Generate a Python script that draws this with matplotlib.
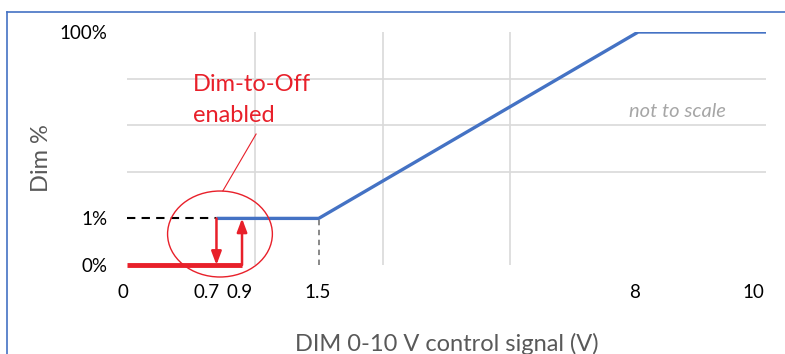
import numpy as np
import matplotlib
matplotlib.use("Agg")
import matplotlib.pyplot as plt
from matplotlib.patches import Ellipse
from matplotlib.lines import Line2D
from matplotlib.transforms import ScaledTranslation

plt.rcParams['font.family'] = ['Lato', 'DejaVu Sans']

# data (volts, dim %)
curve_v = [0.7, 1.5, 8, 10]
curve_dim = [1, 1, 100, 100]
off_v = [0, 0.9]
off_dim = [0, 0]
dash_v = [0, 0.7]
dash_dim = [1, 1]
min_v = [1.5, 1.5]
min_dim = [0, 1]
arrow_down = (0.7, 1, 0)
arrow_up = (0.9, 0, 1)
xticks = [0, 0.7, 0.9, 1.5, 8, 10]
xticklabels = ['0', '0.7', '0.9', '1.5', '8', '10']
yticks = [0, 1, 100]
yticklabels = ['0%', '1%', '100%']

# "not to scale" axes: piecewise linear
xk = np.array([0, 1.5, 8, 10]); xu = np.array([0, 1.5, 4, 5])
yk = np.array([0, 1, 100]); yu = np.array([0, 1, 5])


def pw(a, k, u):
    a = np.asarray(a, dtype=float)
    lo = u[0] + (a - k[0]) * (u[1] - u[0]) / (k[1] - k[0])
    hi = u[-1] + (a - k[-1]) * (u[-1] - u[-2]) / (k[-1] - k[-2])
    return np.where(a < k[0], lo, np.where(a > k[-1], hi, np.interp(a, k, u)))


fig = plt.figure(figsize=(7.85, 3.54), dpi=100)
ax = fig.add_axes([127 / 785, 89 / 354, 639 / 785, 233 / 354])
ax.set_xscale('function', functions=(lambda a: pw(a, xk, xu), lambda a: pw(a, xu, xk)))
ax.set_yscale('function', functions=(lambda a: pw(a, yk, yu), lambda a: pw(a, yu, yk)))
ax.set_xlim(0, 10)
ax.set_ylim(0, 100)

ax.set_xticks(xticks)
ax.set_xticklabels(xticklabels, fontsize=13.5)
ax.set_yticks(yticks)
ax.set_yticklabels(yticklabels, fontsize=13.5)
ax.set_xticks(pw(np.arange(6), xu, xk), minor=True)
ax.set_yticks(pw(np.arange(6), yu, yk), minor=True)
ax.tick_params(which='both', length=0)
ax.tick_params(axis='x', pad=14)
ax.tick_params(axis='y', pad=14)
ax.grid(which='minor', color='#d9d9d9', lw=1.2)
ax.grid(which='major', visible=False)
for s in ax.spines.values():
    s.set_visible(False)

offs = [-4, -10, -2, -1, -4, -13]
for lab, dx in zip(ax.get_xticklabels(), offs):
    lab.set_transform(lab.get_transform() + ScaledTranslation(dx / 100, 0, fig.dpi_scale_trans))

ax.plot(curve_v, curve_dim, color='#4472c4', lw=2.4, solid_capstyle='butt', zorder=3)
ax.plot(dash_v, dash_dim, color='black', lw=1.5, ls=(0, (4, 3)), zorder=3)
ax.plot(min_v, min_dim, color='#7f7f7f', lw=1.3, ls=(0, (3, 2.5)), zorder=3)
ax.plot(off_v, off_dim, color='#e8202a', lw=3.5, solid_capstyle='butt', clip_on=False, zorder=4)
for x0, y0, y1 in [arrow_down, arrow_up]:
    ax.annotate('', xy=(x0, y1), xytext=(x0, y0),
                arrowprops=dict(arrowstyle='-|>,head_length=0.8,head_width=0.3',
                                color='#e8202a', lw=1.8, shrinkA=0, shrinkB=0),
                zorder=5)

ax.add_patch(Ellipse((0.1455, 0.133), 0.164, 0.369, transform=ax.transAxes, fill=False,
                     ec='#e8202a', lw=1.0, clip_on=False, zorder=5))
ax.plot([0.150, 0.202], [0.318, 0.562], transform=ax.transAxes, color='#e8202a', lw=0.8)
ax.text(0.103, 0.708, 'Dim-to-Off\nenabled', transform=ax.transAxes, color='#e8202a',
        fontsize=17, ha='left', va='center', linespacing=1.6)
ax.text(0.861, 0.657, 'not to scale', transform=ax.transAxes, color='#a6a6a6',
        fontsize=14.5, style='italic', ha='center', va='center')

ax.set_xlabel('DIM 0-10 V control signal (V)', fontsize=17, color='#595959')
ax.xaxis.set_label_coords(0.5, -0.29)
ax.set_ylabel('Dim %', fontsize=17, color='#595959')
ax.yaxis.set_label_coords(-0.118, 0.46)

# frame edges
fig.add_artist(Line2D([7 / 785, 7 / 785], [0, 342 / 354], color='#4472c4', lw=1.2))
fig.add_artist(Line2D([7 / 785, 1], [342 / 354, 342 / 354], color='#4472c4', lw=1.2))

fig.savefig('out.png', dpi=100)
